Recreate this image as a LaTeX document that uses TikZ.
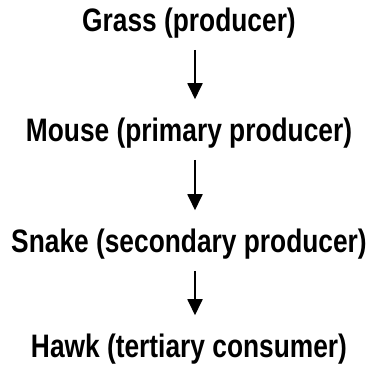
\documentclass[tikz,border=0pt]{standalone}
\usepackage{fontspec}
\setmainfont{Liberation Sans}[FakeStretch=0.81]
\usetikzlibrary{arrows.meta}
\tikzset{
  level/.style={font=\fontsize{32.5}{38}\selectfont\bfseries, anchor=base, inner sep=0pt},
  flow/.style={-{Triangle[width=15pt,length=16pt]}, line width=1.8pt, shorten <=11pt, shorten >=19pt},
}
\begin{document}
\begin{tikzpicture}[x=1pt,y=-1pt]
\useasboundingbox (0,0) rectangle (370,366);
% food chain, one level per line
\node[level] (grass) at (189,32) {Grass (producer)};
\node[level] (mouse) at (189,142) {Mouse (primary producer)};
\node[level] (snake) at (189,253) {Snake (secondary producer)};
\node[level] (hawk) at (189,358) {Hawk (tertiary consumer)};
\draw[flow] ([xshift=6pt]grass.south) -- ([xshift=6pt]mouse.north);
\draw[flow] ([xshift=6pt]mouse.south) -- ([xshift=6pt]snake.north);
\draw[flow] ([xshift=6pt]snake.south) -- ([xshift=6pt]hawk.north);
\end{tikzpicture}
\end{document}
